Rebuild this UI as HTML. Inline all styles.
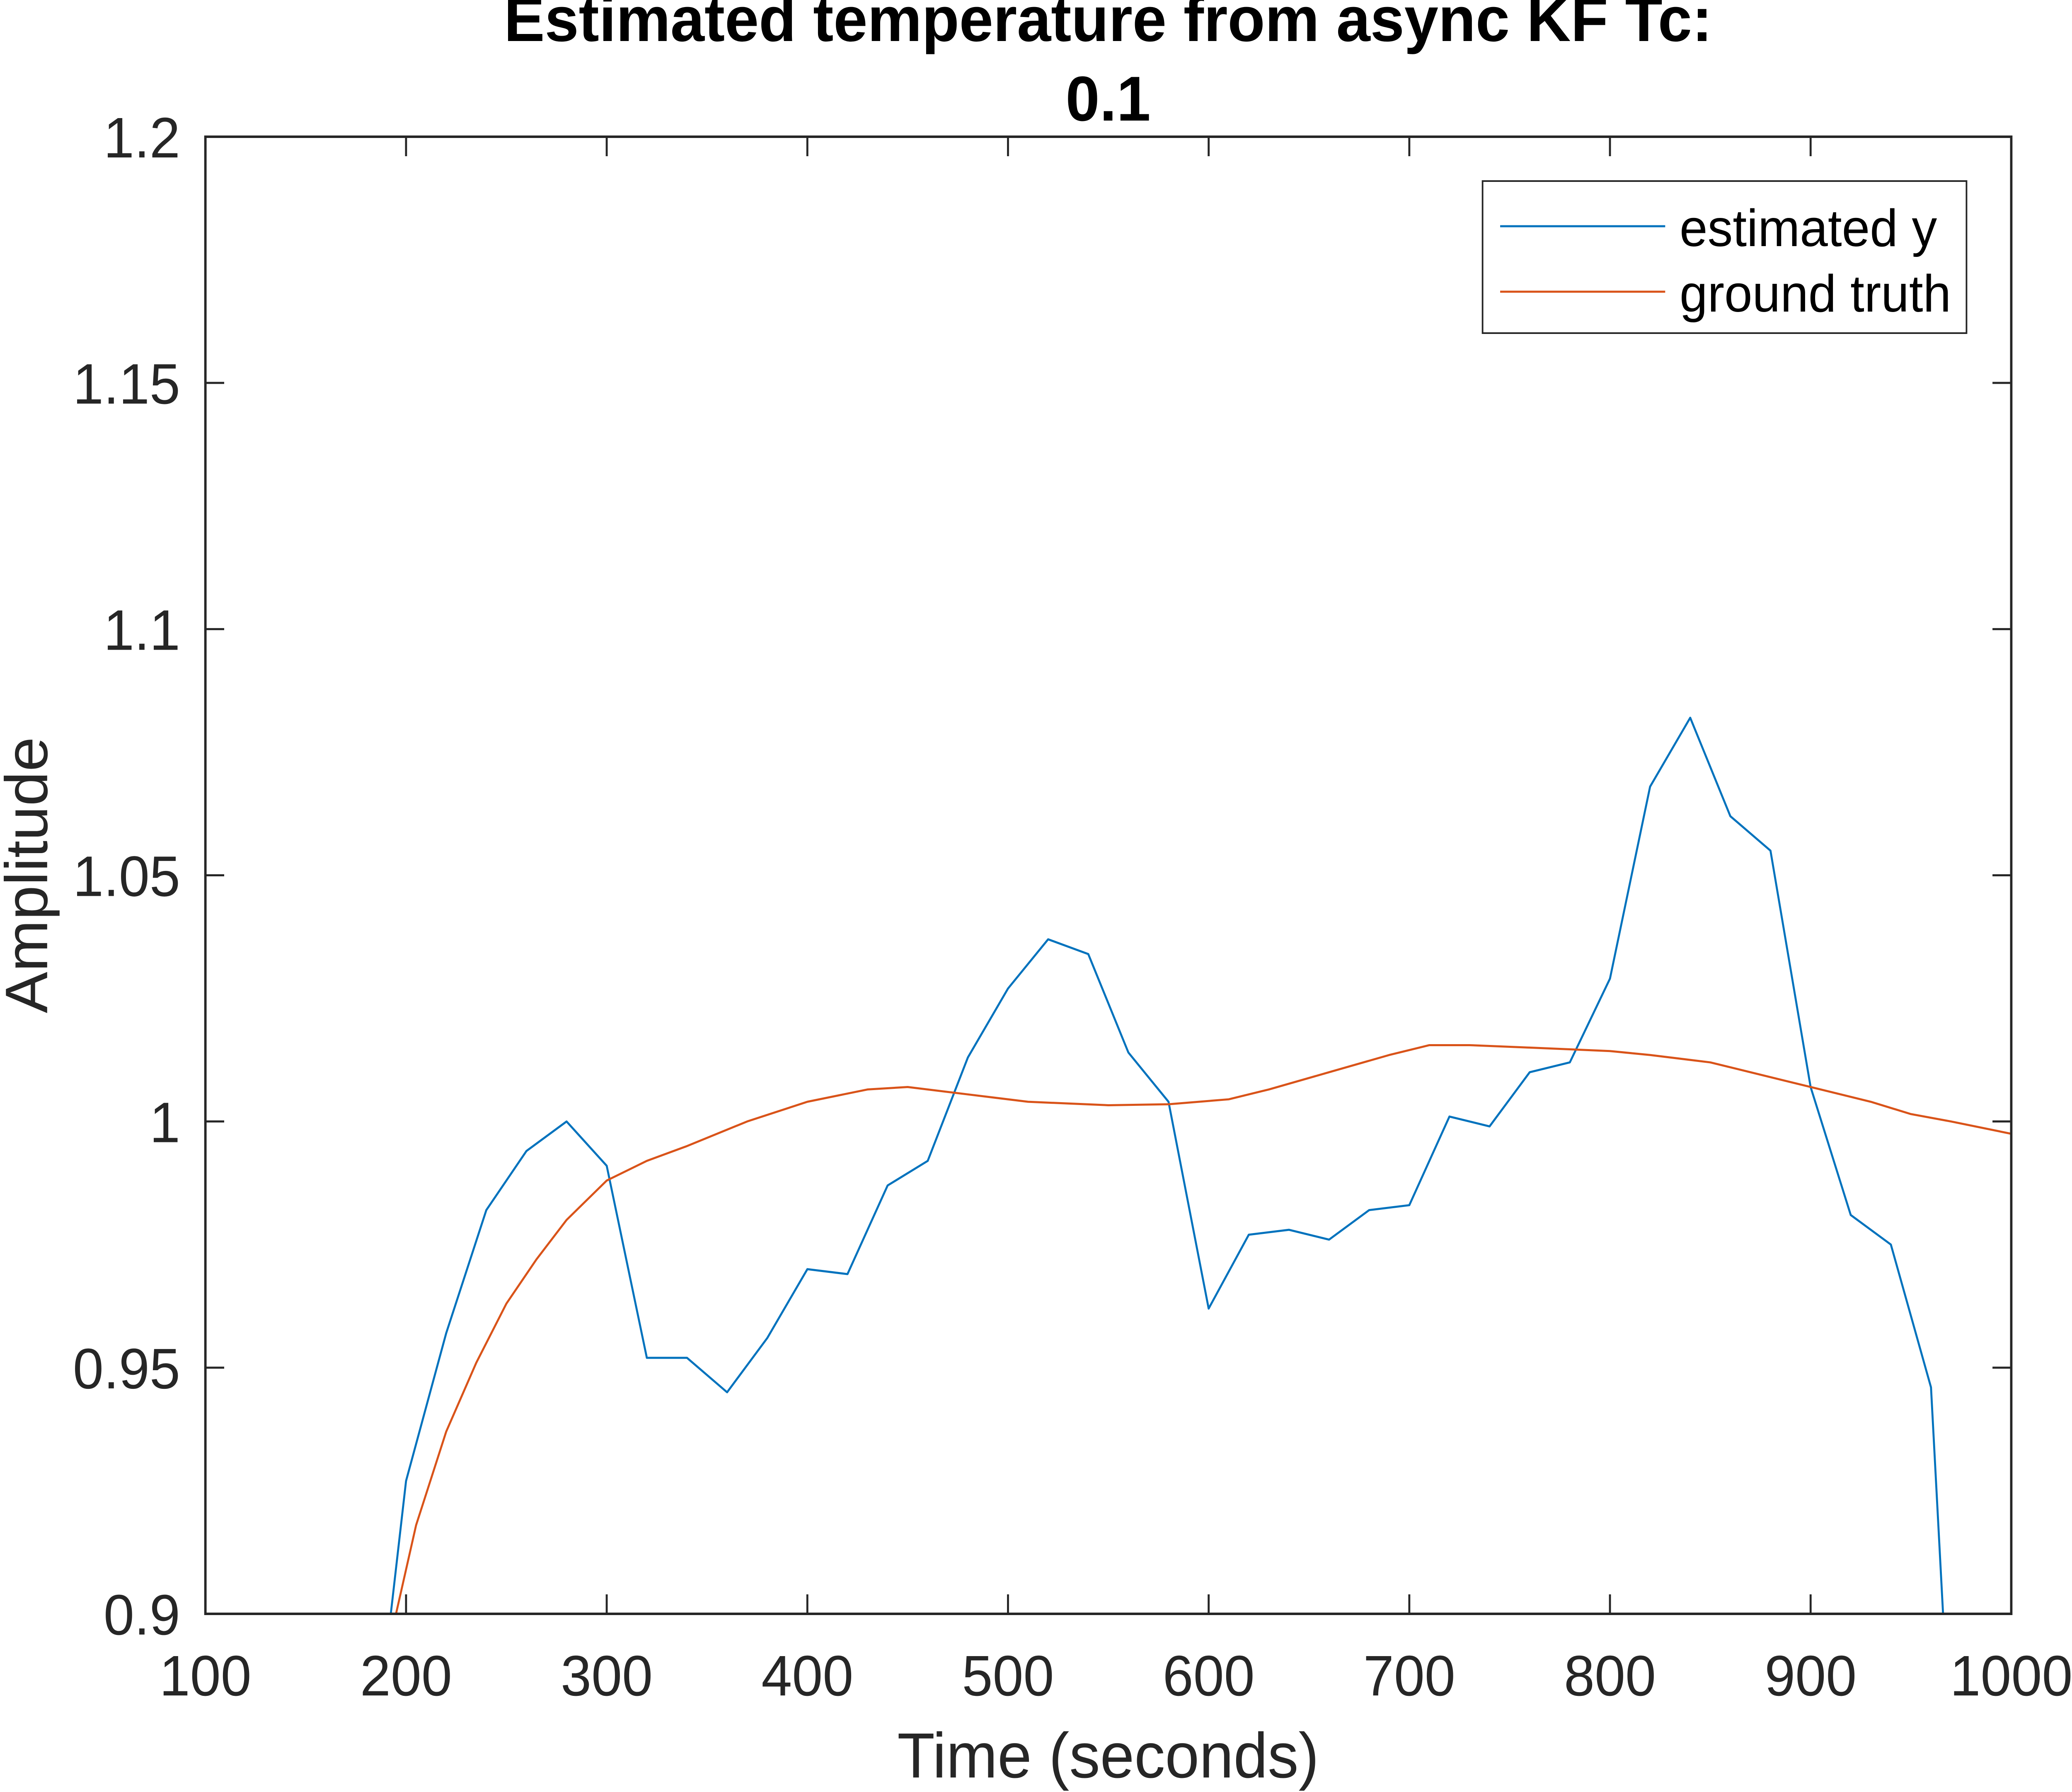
<!DOCTYPE html>
<html><head><meta charset="utf-8"><style>
html,body{margin:0;padding:0;background:#fff;width:100%;height:100%;overflow:hidden;}
svg{display:block;position:absolute;left:0;top:0;width:100vw;height:100vh;font-family:"Liberation Sans",Arial,sans-serif;}
</style></head><body>
<svg id="chart" viewBox="0 0 5185 4325" preserveAspectRatio="none" xmlns="http://www.w3.org/2000/svg">
<defs><clipPath id="plotclip"><rect x="514" y="330" width="4519" height="3565"/></clipPath></defs>
<rect width="5185" height="4325" fill="#fff"/>
<g id="series" clip-path="url(#plotclip)"></g>
<rect x="514" y="330" width="4519" height="3565" fill="none" stroke="#262626" stroke-width="6"/>
<g id="ticks"></g>
<text x="2773" y="99" text-anchor="middle" font-size="153" font-weight="bold" fill="#000">Estimated temperature from async KF Tc:</text>
<text x="2773" y="291" text-anchor="middle" font-size="153" font-weight="bold" fill="#000">0.1</text>
<text x="2773" y="4290" text-anchor="middle" font-size="154" fill="#262626">Time (seconds)</text>
<text transform="translate(118,2112) rotate(-90)" text-anchor="middle" font-size="150" fill="#262626">Amplitude</text>
<g>
<rect x="3710" y="437" width="1211" height="367" fill="#fff" stroke="#262626" stroke-width="4"/>
<line x1="3754" y1="546" x2="4167" y2="546" stroke="#0072BD" stroke-width="5"/>
<text x="4203" y="594" font-size="126" fill="#000">estimated y</text>
<line x1="3754" y1="704" x2="4167" y2="704" stroke="#D95319" stroke-width="5"/>
<text x="4203" y="752" font-size="126" fill="#000">ground truth</text>
</g>
</svg>
<script>
const xTicks = [100,200,300,400,500,600,700,800,900,1000];
const yTicks = [0.9,0.95,1.0,1.05,1.1,1.15,1.2];
const yTickLabels = ["0.9","0.95","1","1.05","1.1","1.15","1.2"];
const estT = [180,200,220,240,260,280,300,320,340,360,380,400,420,440,460,480,500,520,540,560,580,600,620,640,660,680,700,720,740,760,780,800,820,840,860,880,900,920,940,960,980];
const estY = [0.856,0.927,0.957,0.982,0.994,1.000,0.991,0.952,0.952,0.945,0.956,0.970,0.969,0.987,0.992,1.013,1.027,1.037,1.034,1.014,1.004,0.962,0.977,0.978,0.976,0.982,0.983,1.001,0.999,1.010,1.012,1.029,1.068,1.082,1.062,1.055,1.007,0.981,0.975,0.946,0.793];
const truthT = [190,195,205,220,235,250,265,280,300,320,340,370,400,430,450,480,510,550,580,610,630,660,690,710,730,760,800,820,850,870,900,930,950,970,1000];
const truthY = [0.885,0.900,0.918,0.937,0.951,0.963,0.972,0.980,0.988,0.992,0.995,1.000,1.004,1.0065,1.007,1.0055,1.004,1.0033,1.0035,1.0045,1.0065,1.010,1.0135,1.0155,1.0155,1.015,1.0143,1.0135,1.012,1.010,1.007,1.004,1.0015,1.0,0.9975];
const L=514,R=5033,T=330,B=3895, xMin=100,xMax=1000,yMin=0.9,yMax=1.2;
const sx=v=>L+(v-xMin)/(xMax-xMin)*(R-L);
const sy=v=>B-(v-yMin)/(yMax-yMin)*(B-T);
const NS="http://www.w3.org/2000/svg";
const ticks=document.getElementById('ticks');
function mk(tag,attrs,parent){const e=document.createElementNS(NS,tag);for(const k in attrs)e.setAttribute(k,attrs[k]);parent.appendChild(e);return e;}
xTicks.forEach(v=>{
  const x=sx(v);
  const t1=mk('line',{x1:x,y1:B,x2:x,y2:B-47,stroke:'#262626','stroke-width':5},ticks);
  
  
  const t2=mk('line',{x1:x,y1:T,x2:x,y2:T+47,stroke:'#262626','stroke-width':5},ticks);
  
  
  const tx=mk('text',{x:x,y:4092,'text-anchor':'middle','font-size':138,fill:'#262626'},ticks);
  tx.textContent=String(v);
  
  
});
yTicks.forEach((v,i)=>{
  const y=sy(v);
  const t1=mk('line',{x1:L,y1:y,x2:L+47,y2:y,stroke:'#262626','stroke-width':5},ticks);
  
  
  const t2=mk('line',{x1:R,y1:y,x2:R-47,y2:y,stroke:'#262626','stroke-width':5},ticks);
  
  
  const tx=mk('text',{x:451,y:y+50,'text-anchor':'end','font-size':138,fill:'#262626'},ticks);
  tx.textContent=yTickLabels[i];
  
  
});
const series=document.getElementById('series');
const p1=mk('polyline',{points:estT.map((t,i)=>sx(t)+','+sy(estY[i])).join(' '),fill:'none',stroke:'#0072BD','stroke-width':5,'stroke-linejoin':'round'},series);


const p2=mk('polyline',{points:truthT.map((t,i)=>sx(t)+','+sy(truthY[i])).join(' '),fill:'none',stroke:'#D95319','stroke-width':5,'stroke-linejoin':'round'},series);


</script>
</body></html>
